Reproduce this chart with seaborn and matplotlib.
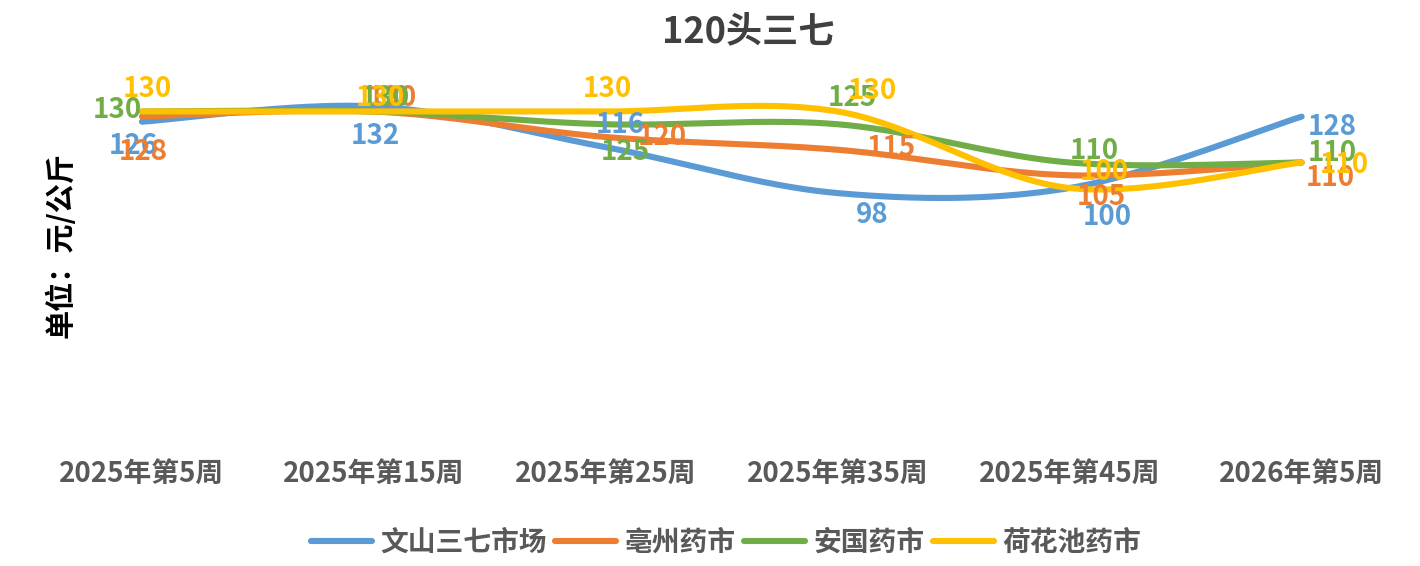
import numpy as np
import pandas as pd
import seaborn as sns
import matplotlib.pyplot as plt

weeks = ["2025年第5周", "2025年第15周", "2025年第25周", "2025年第35周", "2025年第45周", "2026年第5周"]
markets = ["文山三七市场", "亳州药市", "安国药市", "荷花池药市"]
wenshan = [126, 132, 116, 98, 100, 128]
bozhou = [128, 130, 120, 115, 105, 110]
anguo = [130, 130, 125, 125, 110, 110]
hehuachi = [130, 130, 130, 130, 100, 110]
series = [wenshan, bozhou, anguo, hehuachi]

colors = ["#5B9BD5", "#ED7D31", "#70AD47", "#FFC000"]

# label offsets in pixels (dx right, dy down), picked by eye from the reference
label_offsets = [
    [(-9, 24), (1, 30), (14, -22), (34, 22), (38, 29), (31, 10)],
    [(1, 35), (18, -14), (56, 0), (54, -2), (32, 22), (29, 15)],
    [(-25, -2), (11, -14), (19, 28), (15, -26), (25, -12), (31, -10)],
    [(5, -23), (6, -14), (2, -23), (35, -21), (35, -16), (43, 2)],
]


def smooth(xs, ys, n=40):
    # bezier smoothing like the office "smoothed line" option
    pts = np.column_stack([xs, ys]).astype(float)
    p = np.vstack([pts[0], pts, pts[-1]])
    out = []
    for i in range(1, len(p) - 2):
        p0, p3 = p[i], p[i + 1]
        c1 = p0 + (p[i + 1] - p[i - 1]) / 6
        c2 = p3 - (p[i + 2] - p[i]) / 6
        t = np.linspace(0, 1, n)[:, None]
        seg = (1 - t) ** 3 * p0 + 3 * (1 - t) ** 2 * t * c1 + 3 * (1 - t) * t ** 2 * c2 + t ** 3 * p3
        out.append(seg if i == 1 else seg[1:])
    return np.vstack(out)


sns.set_style("white")
plt.rcParams["font.family"] = ["Noto Sans CJK SC", "DejaVu Sans"]
plt.rcParams["font.weight"] = "bold"

x = np.arange(len(weeks))
frames = []
for name, vals in zip(markets, series):
    curve = smooth(x, vals)
    frames.append(pd.DataFrame({"x": curve[:, 0], "y": curve[:, 1], "market": name}))
df = pd.concat(frames, ignore_index=True)

fig = plt.figure(figsize=(14.2, 5.66), dpi=100)
ax = fig.add_axes([0.0183, 0.2173, 0.980, 0.6758])

sns.lineplot(data=df, x="x", y="y", hue="market", hue_order=markets, palette=colors,
             sort=False, estimator=None, units="market", linewidth=4.4, ax=ax,
             solid_capstyle="round", legend=False)

for k, vals in enumerate(series):
    for i, v in enumerate(vals):
        dx, dy = label_offsets[k][i]
        ax.annotate(str(v), (x[i], v), xytext=(dx, -dy), textcoords="offset pixels",
                    ha="center", va="center", fontsize=20, fontweight="bold",
                    color=colors[k], zorder=5)

ax.set_xlim(-0.5, 5.5)
ax.set_ylim(0, 150)
ax.set_xticks(x)
ax.set_xticklabels(weeks, fontsize=20, fontweight="bold", color="#595959")
ax.set_yticks([])
ax.tick_params(axis="x", length=0, pad=12)
ax.set_xlabel("")
ax.set_ylabel("")
for s in ax.spines.values():
    s.set_visible(False)

fig.text(0.527, 1 - 32 / 566, "120头三七", ha="center", va="center",
         fontsize=26, fontweight="bold", color="#404040")
fig.text(60 / 1420, 1 - 245 / 566, "单位：元/公斤", ha="center", va="center",
         rotation=90, fontsize=21, fontweight="bold", color="black")

handles = [plt.Line2D([], [], color=c, linewidth=4.4, solid_capstyle="round") for c in colors]
fig.legend(handles, markets, loc="center", bbox_to_anchor=(726 / 1420, 1 - 543 / 566),
           ncol=4, frameon=False, handlelength=2.2, handletextpad=0.3, columnspacing=0.3,
           prop={"size": 20, "weight": "bold"}, labelcolor="#595959")

fig.savefig("out.png", dpi=100)
plt.close(fig)
